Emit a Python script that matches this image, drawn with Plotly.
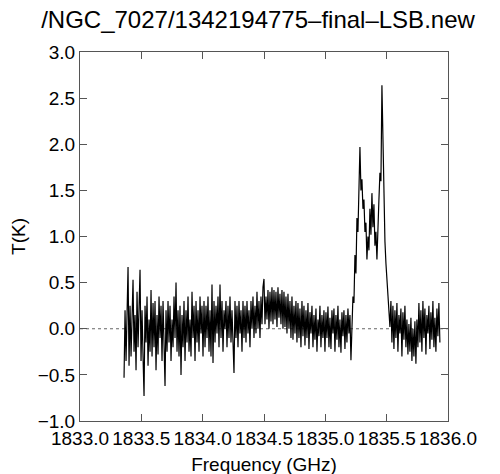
import numpy as np
import plotly.graph_objects as go

title_text = "/NGC_7027/1342194775\u2013final\u2013LSB.new"
x_label = "Frequency (GHz)"
y_label = "T(K)"

freq_start = 1833.359
freq_stop = 1835.934

x_ticks = [1833.0, 1833.5, 1834.0, 1834.5, 1835.0, 1835.5, 1836.0]
y_ticks = [-1.0, -0.5, 0.0, 0.5, 1.0, 1.5, 2.0, 2.5, 3.0]

t_seg1 = [-0.53, 0.20, -0.35, 0.30, 0.67, -0.40, 0.25, -0.30, 0.35, 0.53,
          -0.25, 0.15, -0.45, 0.40, -0.20, 0.30, 0.64, -0.35, 0.20, -0.30,
          -0.73, 0.25, -0.15, 0.35, -0.40, 0.10, -0.25, 0.42, -0.30, 0.28,
          -0.20, 0.30, -0.45, 0.15, -0.28, 0.35, -0.10, 0.25, -0.35, 0.30]
t_seg2 = [-0.20, -0.62, 0.20, -0.25, 0.30, -0.15, 0.25, -0.35, 0.10, -0.20,
          0.35, -0.10, 0.50, -0.25, 0.20, -0.30, 0.25, -0.50, 0.15, -0.20,
          0.30, -0.35, 0.20, -0.15, 0.35, -0.25, 0.10, -0.30, 0.40, -0.10,
          0.25, -0.35, 0.30, -0.15, 0.20, -0.25, 0.35, -0.05, 0.25, -0.30]
t_seg3 = [0.30, -0.20, 0.25, -0.10, 0.35, -0.25, 0.20, -0.30, 0.48, -0.37,
          0.30, -0.15, 0.25, -0.05, 0.35, -0.20, 0.48, -0.10, 0.30, -0.25,
          0.20, 0.00, 0.30, -0.20, 0.25, -0.10, 0.35, -0.15, 0.20, -0.05,
          -0.48, 0.30, -0.10, 0.25, -0.20, 0.30, -0.05, 0.20, -0.25, 0.30]
t_seg4 = [-0.10, 0.25, -0.15, 0.30, -0.05, 0.20, -0.20, 0.30, 0.00, 0.35,
          -0.10, 0.25, -0.05, 0.40, 0.00, 0.30, -0.10, 0.35, 0.05, 0.45,
          0.54, 0.05, 0.35, 0.10, 0.42, 0.00, 0.40, 0.08, 0.45, 0.05,
          0.42, 0.10, 0.40, 0.02, 0.45, 0.12, 0.38, 0.05, 0.42, 0.00]
t_seg5 = [0.40, 0.02, 0.35, -0.05, 0.38, 0.00, 0.30, -0.10, 0.35, -0.12,
          0.25, -0.05, 0.30, -0.15, 0.28, -0.10, 0.22, -0.20, 0.30, -0.08,
          0.25, -0.18, 0.20, -0.10, 0.28, -0.22, 0.18, -0.05, 0.25, -0.20,
          0.15, -0.12, 0.22, -0.25, 0.10, -0.08, 0.25, -0.20, 0.15, -0.10]
t_seg6 = [0.20, -0.25, 0.18, -0.10, 0.24, -0.20, 0.12, -0.22, 0.20, -0.05,
          0.22, -0.25, 0.15, -0.12, 0.25, -0.20, 0.10, -0.26, 0.18, -0.08,
          0.20, -0.22, 0.15, -0.15, 0.22, -0.05, 0.15, -0.34]
t_line = [0.10, 0.35, 0.28, 0.80, 0.60, 1.20, 1.05, 1.70, 1.97, 1.50,
          1.62, 1.30, 1.40, 1.05, 1.15, 0.75, 1.00, 0.85, 1.30, 1.02,
          1.47, 1.10, 1.35, 0.90, 1.05, 0.75, 1.20, 1.40, 1.69, 1.60,
          2.64, 1.90, 1.18, 0.95, 0.71, 0.55, 0.39, 0.20, 0.02]
t_seg8 = [0.30, -0.15, 0.25, -0.22, 0.20, -0.10, 0.28, -0.25, 0.15, -0.05,
          0.22, -0.30, 0.18, -0.12, 0.25, -0.20, 0.10, -0.28, 0.05, -0.25,
          0.12, -0.35, 0.00, -0.30, 0.08, -0.38, 0.10, -0.20, 0.28, -0.15,
          0.20, -0.25, 0.30, -0.10, 0.22, -0.28, 0.15, -0.05, 0.25, -0.22,
          0.18, -0.12, 0.30, -0.20, 0.12, -0.25, 0.22, -0.08, 0.28, -0.15]

temps = t_seg1 + t_seg2 + t_seg3 + t_seg4 + t_seg5 + t_seg6 + t_line + t_seg8
freqs = np.linspace(freq_start, freq_stop, len(temps))

FONT = "Liberation Sans, Arial, sans-serif"
AXC = "#555555"

fig = go.Figure()
fig.add_trace(go.Scatter(x=freqs, y=temps, mode="lines",
                         line=dict(color="black", width=1.2), showlegend=False,
                         hoverinfo="skip"))
fig.add_shape(type="line", xref="paper", yref="y", x0=0, x1=1, y0=0, y1=0,
              line=dict(color="#666666", width=1, dash="dot"), layer="below")

axis_common = dict(showgrid=False, zeroline=False, showline=True, linecolor=AXC,
                   linewidth=1, mirror="ticks", ticks="inside", ticklen=7,
                   tickcolor=AXC, tickwidth=1, automargin=False,
                   tickfont=dict(family=FONT, size=19, color="black"))

fig.update_layout(
    width=500, height=474,
    margin=dict(l=72, r=60, t=44, b=61),
    paper_bgcolor="white", plot_bgcolor="white",
    title=dict(text=title_text, x=0.5, xanchor="center", xref="container",
               y=0.994, yanchor="top", yref="container",
               font=dict(family=FONT, size=24, color="black")),
    xaxis=dict(range=[1833.0, 1836.0], tickvals=x_ticks, tickangle=0,
               ticktext=[f"{v:.1f}" for v in x_ticks],
               title=dict(text=x_label, standoff=9,
                          font=dict(family=FONT, size=19, color="black")),
               **axis_common),
    yaxis=dict(range=[-1.0, 3.0], tickvals=y_ticks,
               ticktext=[f"{v:.1f}".replace("-", "\u2212") for v in y_ticks],
               title=dict(text=y_label, standoff=12,
                          font=dict(family=FONT, size=19, color="black")),
               **axis_common),
)

fig.write_html("out.html")
